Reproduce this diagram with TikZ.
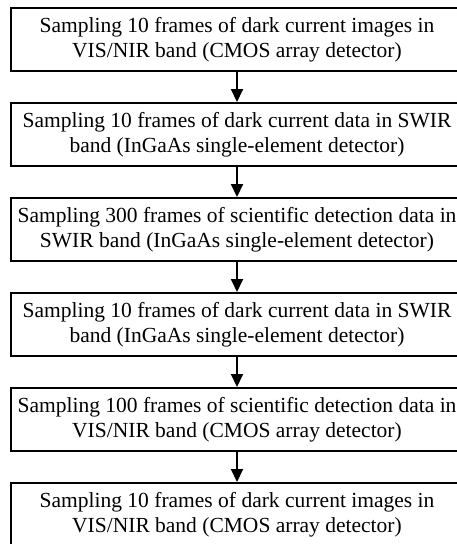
\documentclass[tikz,border=0pt]{standalone}
\usepackage{fontspec}
\setmainfont{Liberation Serif}
\usetikzlibrary{arrows.meta}
\begin{document}
\begin{tikzpicture}[
	x=1pt, y=-1pt,
	stepbox/.style={ draw, line width=2pt, minimum width=452pt, minimum height=63pt, inner sep=0pt, align=center, font=\fontsize{21.5}{25.5}\selectfont },
	flow/.style={ line width=2pt, -{Triangle[width=12pt,length=13pt]} }
]
\useasboundingbox (0,0) rectangle (456,544);

\node at (237,39.5) (s1) [stepbox] {Sampling 10 frames of dark current images in\\VIS/NIR band (CMOS array detector)};
\node at (237,134.5) (s2) [stepbox] {Sampling 10 frames of dark current data in SWIR\\band (InGaAs single-element detector)};
\node at (237,229.5) (s3) [stepbox] {Sampling 300 frames of scientific detection data in\\SWIR band (InGaAs single-element detector)};
\node at (237,324.5) (s4) [stepbox] {Sampling 10 frames of dark current data in SWIR\\band (InGaAs single-element detector)};
\node at (237,419.5) (s5) [stepbox] {Sampling 100 frames of scientific detection data in\\VIS/NIR band (CMOS array detector)};
\node at (237,514.5) (s6) [stepbox] {Sampling 10 frames of dark current images in\\VIS/NIR band (CMOS array detector)};

\draw[flow] (s1) to (s2);
\draw[flow] (s2) to (s3);
\draw[flow] (s3) to (s4);
\draw[flow] (s4) to (s5);
\draw[flow] (s5) to (s6);

\end{tikzpicture}
\end{document}
